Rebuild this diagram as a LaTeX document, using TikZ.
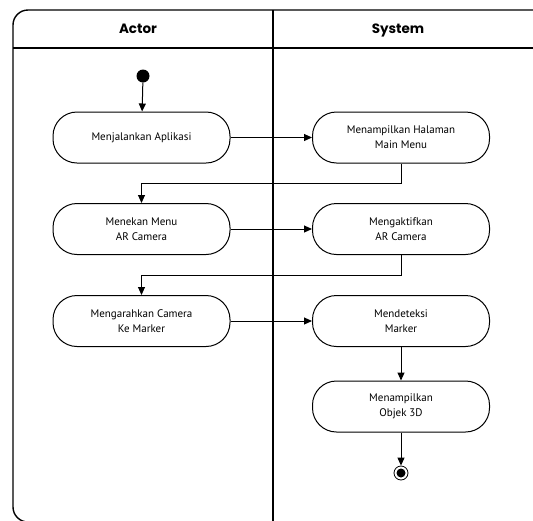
\documentclass[tikz,border=0pt]{standalone}
\usepackage{fontspec}
\setmainfont{PT Sans}
\newfontfamily\hfont{Poppins}
\usetikzlibrary{arrows.meta}
\tikzset{
  act/.style={draw, line width=1pt, rounded corners=24pt, minimum width=177pt, minimum height=51pt, align=center, font=\fontsize{11}{15}\selectfont, inner sep=0pt},
  arr/.style={line width=1pt, -{Triangle[length=8pt,width=7pt]}},
  frame/.style={line width=1.4pt},
  hdr/.style={font=\hfont\bfseries\fontsize{13.5}{15}\selectfont, anchor=base}
}
\begin{document}
\begin{tikzpicture}[x=1pt,y=-1pt]
\useasboundingbox (0,0) rectangle (533,520);
\clip (0,0) rectangle (533,520);
\draw[frame, rounded corners=15pt] (13,10) rectangle (548,522);
\draw[frame] (13,48) -- (548,48);
\draw[frame] (273,10) -- (273,522);
\node[hdr] (ha) at (138,33) {Actor};
\node[hdr] (hs) at (398,33) {System};
\node[circle, fill=black, minimum size=13pt, inner sep=0pt] (start) at (143,76) {};
\node[act] (b1) at (141.5,137.5) {Menjalankan Aplikasi};
\node[act] (b2) at (401,137.5) {Menampilkan Halaman\\Main Menu};
\node[act] (b3) at (141.5,229) {Menekan Menu\\AR Camera};
\node[act] (b4) at (401,229) {Mengaktifkan\\AR Camera};
\node[act] (b5) at (141.5,321) {Mengarahkan Camera\\Ke Marker};
\node[act] (b6) at (401,321) {Mendeteksi\\Marker};
\node[act] (b7) at (401,406.5) {Menampilkan\\Objek 3D};
\node[circle, draw, line width=0.8pt, minimum size=14pt, inner sep=0pt] (end) at (401,473) {};
\node[circle, fill=black, minimum size=9pt, inner sep=0pt] (endin) at (end.center) {};
\draw[arr] (start) -- (b1);
\draw[arr] (b1) -- (b2);
\draw[arr] (b2.south) -- ++(0,20) -| (b3.north);
\draw[arr] (b3) -- (b4);
\draw[arr] (b4.south) -- ++(0,20) -| (b5.north);
\draw[arr] (b5) -- (b6);
\draw[arr] (b6) -- (b7);
\draw[arr] (b7) -- (end);
\end{tikzpicture}
\end{document}
